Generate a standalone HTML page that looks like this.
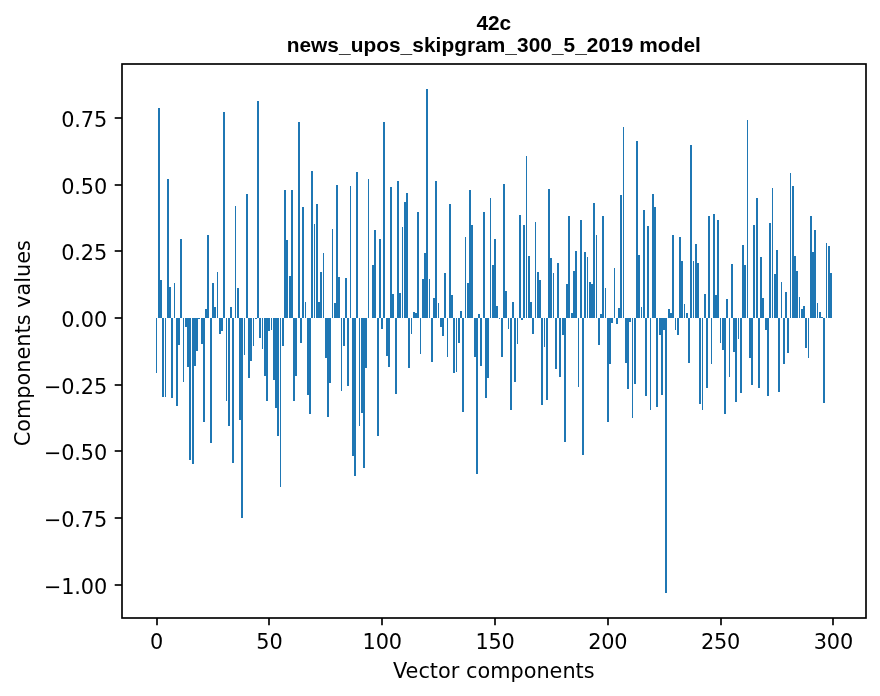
<!DOCTYPE html>
<html><head><meta charset="utf-8"><title>42c</title>
<style>
html,body{margin:0;padding:0;background:#fff;}
body{width:880px;height:696px;overflow:hidden;}
svg{display:block;}
.t{font-family:"DejaVu Sans","Liberation Sans",sans-serif;font-size:20.83px;fill:#000;}
.h{font-family:"Liberation Sans","DejaVu Sans",sans-serif;font-weight:bold;font-size:20.83px;fill:#000;}
</style></head><body>
<svg width="880" height="696" viewBox="0 0 880 696">
<rect x="0" y="0" width="880" height="696" fill="#fff"/>
<g fill="#1f77b4" shape-rendering="crispEdges">
<rect x="156" y="318" width="1" height="55"/>
<rect x="158" y="108" width="2" height="210"/>
<rect x="160" y="280" width="2" height="38"/>
<rect x="162" y="318" width="2" height="79"/>
<rect x="165" y="318" width="1" height="79"/>
<rect x="167" y="179" width="2" height="139"/>
<rect x="169" y="287" width="2" height="31"/>
<rect x="171" y="318" width="2" height="80"/>
<rect x="174" y="283" width="1" height="35"/>
<rect x="176" y="318" width="2" height="88"/>
<rect x="178" y="318" width="2" height="27"/>
<rect x="180" y="239" width="2" height="79"/>
<rect x="183" y="318" width="1" height="64"/>
<rect x="185" y="318" width="2" height="9"/>
<rect x="187" y="318" width="2" height="49"/>
<rect x="189" y="318" width="2" height="142"/>
<rect x="192" y="318" width="2" height="146"/>
<rect x="194" y="318" width="2" height="48"/>
<rect x="196" y="318" width="2" height="33"/>
<rect x="198" y="318" width="2" height="1"/>
<rect x="201" y="318" width="2" height="26"/>
<rect x="203" y="318" width="2" height="104"/>
<rect x="205" y="309" width="2" height="9"/>
<rect x="207" y="235" width="2" height="83"/>
<rect x="210" y="318" width="2" height="125"/>
<rect x="212" y="283" width="2" height="35"/>
<rect x="214" y="307" width="2" height="11"/>
<rect x="217" y="272" width="1" height="46"/>
<rect x="219" y="318" width="2" height="16"/>
<rect x="221" y="318" width="2" height="13"/>
<rect x="223" y="112" width="2" height="206"/>
<rect x="226" y="318" width="1" height="83"/>
<rect x="228" y="318" width="2" height="108"/>
<rect x="230" y="307" width="2" height="11"/>
<rect x="232" y="318" width="2" height="145"/>
<rect x="235" y="206" width="1" height="112"/>
<rect x="237" y="288" width="2" height="30"/>
<rect x="239" y="318" width="2" height="102"/>
<rect x="241" y="318" width="2" height="200"/>
<rect x="244" y="318" width="1" height="37"/>
<rect x="246" y="194" width="2" height="124"/>
<rect x="248" y="318" width="2" height="60"/>
<rect x="250" y="318" width="2" height="43"/>
<rect x="253" y="318" width="1" height="28"/>
<rect x="255" y="318" width="2" height="1"/>
<rect x="257" y="101" width="2" height="217"/>
<rect x="259" y="318" width="2" height="20"/>
<rect x="262" y="318" width="1" height="31"/>
<rect x="264" y="318" width="2" height="58"/>
<rect x="266" y="318" width="2" height="83"/>
<rect x="268" y="318" width="2" height="13"/>
<rect x="271" y="318" width="1" height="12"/>
<rect x="273" y="318" width="2" height="62"/>
<rect x="275" y="318" width="2" height="90"/>
<rect x="277" y="318" width="2" height="118"/>
<rect x="280" y="318" width="1" height="169"/>
<rect x="282" y="318" width="2" height="28"/>
<rect x="284" y="190" width="2" height="128"/>
<rect x="286" y="240" width="2" height="78"/>
<rect x="289" y="276" width="2" height="42"/>
<rect x="291" y="190" width="2" height="128"/>
<rect x="293" y="318" width="2" height="83"/>
<rect x="295" y="318" width="2" height="58"/>
<rect x="298" y="122" width="2" height="196"/>
<rect x="300" y="318" width="2" height="25"/>
<rect x="302" y="207" width="2" height="111"/>
<rect x="305" y="302" width="1" height="16"/>
<rect x="307" y="318" width="2" height="77"/>
<rect x="309" y="318" width="2" height="96"/>
<rect x="311" y="171" width="2" height="147"/>
<rect x="314" y="224" width="1" height="94"/>
<rect x="316" y="204" width="2" height="114"/>
<rect x="318" y="302" width="2" height="16"/>
<rect x="320" y="272" width="2" height="46"/>
<rect x="323" y="253" width="1" height="65"/>
<rect x="325" y="318" width="2" height="40"/>
<rect x="327" y="318" width="2" height="99"/>
<rect x="329" y="318" width="2" height="65"/>
<rect x="332" y="229" width="1" height="89"/>
<rect x="334" y="303" width="2" height="15"/>
<rect x="336" y="185" width="2" height="133"/>
<rect x="338" y="277" width="2" height="41"/>
<rect x="341" y="318" width="1" height="73"/>
<rect x="343" y="318" width="2" height="28"/>
<rect x="345" y="278" width="2" height="40"/>
<rect x="347" y="318" width="2" height="68"/>
<rect x="350" y="186" width="1" height="132"/>
<rect x="352" y="318" width="2" height="138"/>
<rect x="354" y="318" width="2" height="158"/>
<rect x="356" y="172" width="2" height="146"/>
<rect x="359" y="318" width="1" height="108"/>
<rect x="361" y="318" width="2" height="95"/>
<rect x="363" y="318" width="2" height="150"/>
<rect x="365" y="318" width="2" height="50"/>
<rect x="368" y="179" width="1" height="139"/>
<rect x="372" y="265" width="2" height="53"/>
<rect x="374" y="230" width="2" height="88"/>
<rect x="377" y="318" width="2" height="118"/>
<rect x="379" y="239" width="2" height="79"/>
<rect x="381" y="318" width="2" height="11"/>
<rect x="383" y="122" width="2" height="196"/>
<rect x="386" y="318" width="2" height="38"/>
<rect x="388" y="318" width="2" height="49"/>
<rect x="390" y="187" width="2" height="131"/>
<rect x="392" y="294" width="2" height="24"/>
<rect x="395" y="318" width="2" height="76"/>
<rect x="397" y="181" width="2" height="137"/>
<rect x="399" y="293" width="2" height="25"/>
<rect x="402" y="227" width="1" height="91"/>
<rect x="404" y="202" width="2" height="116"/>
<rect x="406" y="193" width="2" height="125"/>
<rect x="408" y="318" width="2" height="50"/>
<rect x="411" y="318" width="1" height="16"/>
<rect x="413" y="312" width="2" height="6"/>
<rect x="415" y="313" width="2" height="5"/>
<rect x="417" y="212" width="2" height="106"/>
<rect x="420" y="318" width="1" height="36"/>
<rect x="422" y="279" width="2" height="39"/>
<rect x="424" y="253" width="2" height="65"/>
<rect x="426" y="89" width="2" height="229"/>
<rect x="429" y="279" width="1" height="39"/>
<rect x="431" y="318" width="2" height="44"/>
<rect x="433" y="298" width="2" height="20"/>
<rect x="435" y="181" width="2" height="137"/>
<rect x="438" y="303" width="1" height="15"/>
<rect x="440" y="318" width="2" height="9"/>
<rect x="442" y="318" width="2" height="18"/>
<rect x="444" y="273" width="2" height="45"/>
<rect x="447" y="318" width="1" height="39"/>
<rect x="449" y="204" width="2" height="114"/>
<rect x="451" y="295" width="2" height="23"/>
<rect x="453" y="318" width="2" height="55"/>
<rect x="456" y="318" width="1" height="54"/>
<rect x="458" y="318" width="2" height="25"/>
<rect x="460" y="311" width="2" height="7"/>
<rect x="462" y="318" width="2" height="94"/>
<rect x="465" y="237" width="1" height="81"/>
<rect x="467" y="283" width="2" height="35"/>
<rect x="469" y="190" width="2" height="128"/>
<rect x="471" y="225" width="2" height="93"/>
<rect x="474" y="318" width="2" height="39"/>
<rect x="476" y="318" width="2" height="156"/>
<rect x="478" y="314" width="2" height="4"/>
<rect x="480" y="318" width="2" height="48"/>
<rect x="483" y="212" width="2" height="106"/>
<rect x="485" y="318" width="2" height="80"/>
<rect x="487" y="318" width="2" height="60"/>
<rect x="490" y="198" width="1" height="120"/>
<rect x="492" y="265" width="2" height="53"/>
<rect x="494" y="239" width="2" height="79"/>
<rect x="496" y="306" width="2" height="12"/>
<rect x="499" y="318" width="1" height="1"/>
<rect x="501" y="318" width="2" height="39"/>
<rect x="503" y="184" width="2" height="134"/>
<rect x="505" y="291" width="2" height="27"/>
<rect x="508" y="318" width="1" height="11"/>
<rect x="510" y="318" width="2" height="92"/>
<rect x="512" y="302" width="2" height="16"/>
<rect x="514" y="318" width="2" height="64"/>
<rect x="517" y="318" width="1" height="26"/>
<rect x="519" y="215" width="2" height="103"/>
<rect x="521" y="318" width="2" height="2"/>
<rect x="523" y="225" width="2" height="93"/>
<rect x="526" y="156" width="1" height="162"/>
<rect x="528" y="256" width="2" height="62"/>
<rect x="530" y="302" width="2" height="16"/>
<rect x="532" y="318" width="2" height="16"/>
<rect x="535" y="222" width="1" height="96"/>
<rect x="537" y="272" width="2" height="46"/>
<rect x="539" y="280" width="2" height="38"/>
<rect x="541" y="318" width="2" height="87"/>
<rect x="544" y="318" width="1" height="29"/>
<rect x="546" y="318" width="2" height="82"/>
<rect x="548" y="189" width="2" height="129"/>
<rect x="550" y="258" width="2" height="60"/>
<rect x="553" y="273" width="1" height="45"/>
<rect x="555" y="318" width="2" height="51"/>
<rect x="557" y="263" width="2" height="55"/>
<rect x="559" y="318" width="2" height="59"/>
<rect x="562" y="318" width="2" height="17"/>
<rect x="564" y="318" width="2" height="124"/>
<rect x="566" y="284" width="2" height="34"/>
<rect x="568" y="216" width="2" height="102"/>
<rect x="571" y="313" width="2" height="5"/>
<rect x="573" y="271" width="2" height="47"/>
<rect x="575" y="251" width="2" height="67"/>
<rect x="578" y="318" width="1" height="69"/>
<rect x="580" y="220" width="2" height="98"/>
<rect x="582" y="318" width="2" height="137"/>
<rect x="584" y="252" width="2" height="66"/>
<rect x="587" y="257" width="1" height="61"/>
<rect x="589" y="282" width="2" height="36"/>
<rect x="591" y="284" width="2" height="34"/>
<rect x="593" y="203" width="2" height="115"/>
<rect x="596" y="235" width="1" height="83"/>
<rect x="598" y="318" width="2" height="27"/>
<rect x="600" y="314" width="2" height="4"/>
<rect x="602" y="216" width="2" height="102"/>
<rect x="605" y="288" width="1" height="30"/>
<rect x="607" y="318" width="2" height="104"/>
<rect x="609" y="318" width="2" height="46"/>
<rect x="611" y="318" width="2" height="5"/>
<rect x="614" y="268" width="1" height="50"/>
<rect x="616" y="318" width="2" height="6"/>
<rect x="618" y="308" width="2" height="10"/>
<rect x="620" y="195" width="2" height="123"/>
<rect x="623" y="127" width="1" height="191"/>
<rect x="625" y="318" width="2" height="45"/>
<rect x="627" y="318" width="2" height="71"/>
<rect x="629" y="318" width="2" height="4"/>
<rect x="632" y="318" width="1" height="100"/>
<rect x="634" y="318" width="2" height="66"/>
<rect x="636" y="141" width="2" height="177"/>
<rect x="638" y="255" width="2" height="63"/>
<rect x="641" y="307" width="1" height="11"/>
<rect x="643" y="210" width="2" height="108"/>
<rect x="645" y="318" width="2" height="78"/>
<rect x="647" y="226" width="2" height="92"/>
<rect x="650" y="318" width="1" height="92"/>
<rect x="652" y="194" width="2" height="124"/>
<rect x="654" y="207" width="2" height="111"/>
<rect x="656" y="318" width="2" height="89"/>
<rect x="659" y="318" width="2" height="17"/>
<rect x="661" y="318" width="2" height="77"/>
<rect x="663" y="318" width="2" height="12"/>
<rect x="665" y="318" width="2" height="275"/>
<rect x="668" y="309" width="2" height="9"/>
<rect x="670" y="313" width="2" height="5"/>
<rect x="672" y="235" width="2" height="83"/>
<rect x="675" y="318" width="1" height="12"/>
<rect x="677" y="318" width="2" height="17"/>
<rect x="679" y="237" width="2" height="81"/>
<rect x="681" y="261" width="2" height="57"/>
<rect x="684" y="304" width="1" height="14"/>
<rect x="686" y="313" width="2" height="5"/>
<rect x="688" y="318" width="2" height="45"/>
<rect x="690" y="145" width="2" height="173"/>
<rect x="693" y="261" width="1" height="57"/>
<rect x="695" y="244" width="2" height="74"/>
<rect x="697" y="263" width="2" height="55"/>
<rect x="699" y="318" width="2" height="86"/>
<rect x="702" y="318" width="1" height="92"/>
<rect x="704" y="294" width="2" height="24"/>
<rect x="706" y="318" width="2" height="70"/>
<rect x="708" y="216" width="2" height="102"/>
<rect x="711" y="318" width="1" height="46"/>
<rect x="713" y="214" width="2" height="104"/>
<rect x="715" y="295" width="2" height="23"/>
<rect x="717" y="220" width="2" height="98"/>
<rect x="720" y="318" width="1" height="25"/>
<rect x="722" y="318" width="2" height="32"/>
<rect x="724" y="318" width="2" height="96"/>
<rect x="726" y="299" width="2" height="19"/>
<rect x="729" y="318" width="1" height="59"/>
<rect x="731" y="264" width="2" height="54"/>
<rect x="733" y="318" width="2" height="34"/>
<rect x="735" y="318" width="2" height="84"/>
<rect x="738" y="318" width="1" height="21"/>
<rect x="740" y="318" width="2" height="75"/>
<rect x="742" y="245" width="2" height="73"/>
<rect x="744" y="265" width="2" height="53"/>
<rect x="747" y="120" width="1" height="198"/>
<rect x="749" y="318" width="2" height="40"/>
<rect x="751" y="318" width="2" height="67"/>
<rect x="753" y="225" width="2" height="93"/>
<rect x="756" y="198" width="2" height="120"/>
<rect x="758" y="318" width="2" height="70"/>
<rect x="760" y="257" width="2" height="61"/>
<rect x="762" y="298" width="2" height="20"/>
<rect x="765" y="318" width="2" height="12"/>
<rect x="767" y="318" width="2" height="78"/>
<rect x="769" y="223" width="2" height="95"/>
<rect x="772" y="188" width="1" height="130"/>
<rect x="774" y="274" width="2" height="44"/>
<rect x="776" y="250" width="2" height="68"/>
<rect x="778" y="318" width="2" height="74"/>
<rect x="781" y="282" width="1" height="36"/>
<rect x="783" y="318" width="2" height="46"/>
<rect x="785" y="292" width="2" height="26"/>
<rect x="787" y="318" width="2" height="35"/>
<rect x="790" y="173" width="1" height="145"/>
<rect x="792" y="186" width="2" height="132"/>
<rect x="794" y="256" width="2" height="62"/>
<rect x="796" y="271" width="2" height="47"/>
<rect x="799" y="297" width="1" height="21"/>
<rect x="801" y="309" width="2" height="9"/>
<rect x="803" y="306" width="2" height="12"/>
<rect x="805" y="318" width="2" height="30"/>
<rect x="808" y="318" width="1" height="40"/>
<rect x="810" y="216" width="2" height="102"/>
<rect x="812" y="252" width="2" height="66"/>
<rect x="814" y="230" width="2" height="88"/>
<rect x="817" y="303" width="1" height="15"/>
<rect x="819" y="312" width="2" height="6"/>
<rect x="821" y="317" width="2" height="1"/>
<rect x="823" y="318" width="2" height="85"/>
<rect x="826" y="243" width="1" height="75"/>
<rect x="828" y="246" width="2" height="72"/>
<rect x="830" y="273" width="2" height="45"/>
</g>
<g stroke="#000" stroke-width="1.667" fill="none">
<line x1="157" y1="618" x2="157" y2="625.3"/>
<line x1="269" y1="618" x2="269" y2="625.3"/>
<line x1="382" y1="618" x2="382" y2="625.3"/>
<line x1="495" y1="618" x2="495" y2="625.3"/>
<line x1="608" y1="618" x2="608" y2="625.3"/>
<line x1="721" y1="618" x2="721" y2="625.3"/>
<line x1="833" y1="618" x2="833" y2="625.3"/>
<line x1="114.7" y1="118" x2="122" y2="118"/>
<line x1="114.7" y1="185" x2="122" y2="185"/>
<line x1="114.7" y1="251" x2="122" y2="251"/>
<line x1="114.7" y1="318" x2="122" y2="318"/>
<line x1="114.7" y1="385" x2="122" y2="385"/>
<line x1="114.7" y1="451" x2="122" y2="451"/>
<line x1="114.7" y1="518" x2="122" y2="518"/>
<line x1="114.7" y1="585" x2="122" y2="585"/>
<rect x="122" y="64" width="744" height="554" stroke-linejoin="miter"/>
</g>
<g class="t">
<text x="156.6" y="648.8" text-anchor="middle" letter-spacing="-0.2">0</text>
<text x="269.4" y="648.8" text-anchor="middle" letter-spacing="-0.2">50</text>
<text x="382.2" y="648.8" text-anchor="middle" letter-spacing="-0.2">100</text>
<text x="495.0" y="648.8" text-anchor="middle" letter-spacing="-0.2">150</text>
<text x="607.8" y="648.8" text-anchor="middle" letter-spacing="-0.2">200</text>
<text x="720.6" y="648.8" text-anchor="middle" letter-spacing="-0.2">250</text>
<text x="833.4" y="648.8" text-anchor="middle" letter-spacing="-0.2">300</text>
<text x="107.0" y="127" text-anchor="end" letter-spacing="-0.15">0.75</text>
<text x="107.0" y="194" text-anchor="end" letter-spacing="-0.15">0.50</text>
<text x="107.0" y="260" text-anchor="end" letter-spacing="-0.15">0.25</text>
<text x="107.0" y="327" text-anchor="end" letter-spacing="-0.15">0.00</text>
<text x="107.0" y="394" text-anchor="end" letter-spacing="-0.15">−0.25</text>
<text x="107.0" y="460" text-anchor="end" letter-spacing="-0.15">−0.50</text>
<text x="107.0" y="527" text-anchor="end" letter-spacing="-0.15">−0.75</text>
<text x="107.0" y="594" text-anchor="end" letter-spacing="-0.15">−1.00</text>
<text x="493.8" y="677.5" text-anchor="middle">Vector components</text>
<text transform="translate(30.3,343.2) rotate(-90)" text-anchor="middle">Components values</text>
</g>
<g class="h"><text x="493.8" y="29.75" text-anchor="middle">42c</text>
<text x="493.8" y="51.9" text-anchor="middle" letter-spacing="0.06">news_upos_skipgram_300_5_2019 model</text></g>
</svg></body></html>
